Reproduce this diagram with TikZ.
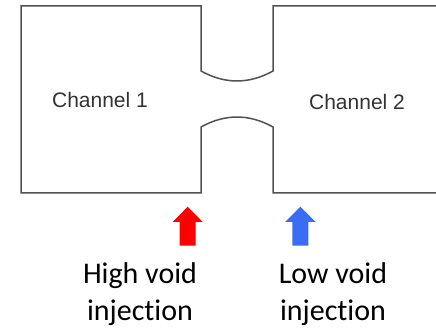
\documentclass[tikz,border=0pt]{standalone}
\usepackage{fontspec}
\setmainfont[Ligatures=NoCommon]{Carlito}
\newfontfamily\arialfont{Liberation Sans}
\begin{document}
\begin{tikzpicture}[x=1pt,y=-1pt,
  wall/.style={draw=black!68, line width=1.5pt, line join=miter},
  chlabel/.style={font=\arialfont\fontsize{21}{24}\selectfont, text=black!80},
  injlabel/.style={font=\fontsize{30}{37}\selectfont, align=center, text=black, inner sep=0pt}]
\useasboundingbox (0,0) rectangle (436,328);
\fill[white] (0,0) rectangle (436,328);
\begin{scope}
\clip (0,0) rectangle (436,328);
\draw[wall] (450,6) -- (273,6) -- (273,71)
  .. controls (249,84.3) and (225,84.3) .. (201,71)
  -- (201,6) -- (21,6) -- (21,193) -- (201,193) -- (201,127)
  .. controls (225,113.7) and (249,113.7) .. (273,127)
  -- (273,193) -- (450,193);
\end{scope}
\node[chlabel] (ch1) at (100,100) {Channel 1};
\node[chlabel] (ch2) at (357,102) {Channel 2};
\fill[red] (187.7,206.7) -- (202.7,222) -- (195.7,222) -- (195.7,245.7)
  -- (179.7,245.7) -- (179.7,222) -- (172.7,222) -- cycle;
\fill[fill={rgb,255:red,58;green,108;blue,245}] (300.3,206.7) -- (315.7,222) -- (308.3,222) -- (308.3,245.7)
  -- (292.3,245.7) -- (292.3,222) -- (285,222) -- cycle;
\node[injlabel, anchor=base] (high) at (140,320) {High void\\injection};
\node[injlabel, anchor=base] (low) at (333,320) {Low void\\injection};
\end{tikzpicture}
\end{document}
